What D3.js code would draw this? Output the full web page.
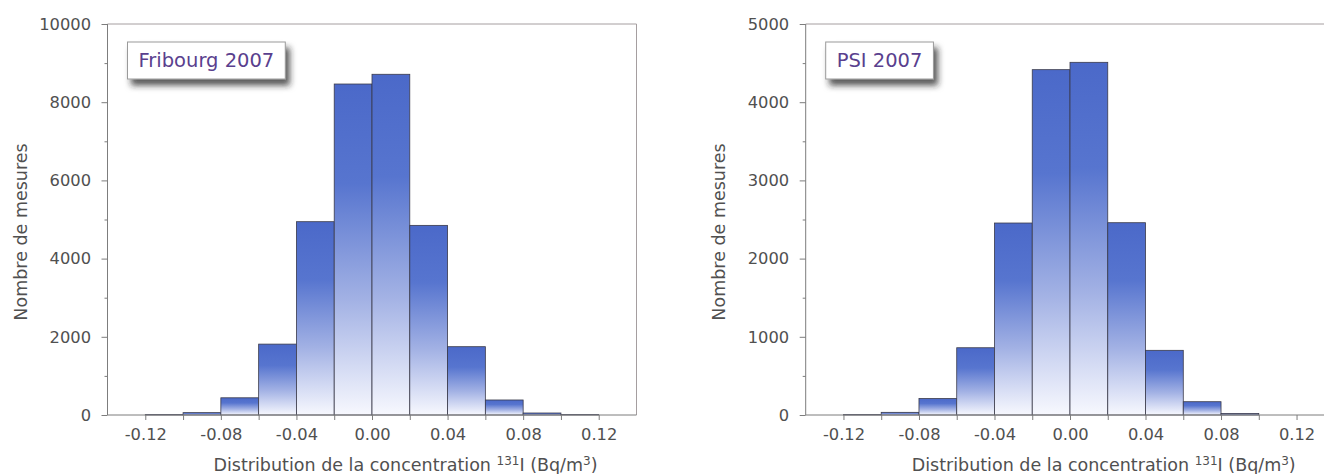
<!DOCTYPE html>
<html>
<head>
<meta charset="utf-8">
<script src="https://cdn.jsdelivr.net/npm/d3@7"></script>
<style>
  html, body { margin: 0; padding: 0; background: #ffffff; }
  svg { display: block; font-family: "DejaVu Sans", "Liberation Sans", Arial, sans-serif; }
</style>
</head>
<body>
<svg id="chart" width="1324" height="474"></svg>
<script>
// ---- data ----
const binStarts = [-0.12, -0.10, -0.08, -0.06, -0.04, -0.02, 0.00, 0.02, 0.04, 0.06, 0.08, 0.10];
const binWidth = 0.02;
const fribourgCounts = [10, 60, 440, 1813, 4944, 8465, 8714, 4850, 1747, 384, 51, 10];
const psiCounts = [5, 34, 210, 860, 2455, 4416, 4510, 2459, 827, 170, 18, 0];
const xTickValues = [-0.12, -0.10, -0.08, -0.06, -0.04, -0.02, 0.00, 0.02, 0.04, 0.06, 0.08, 0.10, 0.12];
const xTickLabels = ["-0.12", "", "-0.08", "", "-0.04", "", "0.00", "", "0.04", "", "0.08", "", "0.12"];
const fribourgYMajor = [0, 2000, 4000, 6000, 8000, 10000];
const fribourgYMinor = [1000, 3000, 5000, 7000, 9000];
const psiYMajor = [0, 1000, 2000, 3000, 4000, 5000];
const psiYMinor = [500, 1500, 2500, 3500, 4500];
const panelTitles = ["Fribourg 2007", "PSI 2007"];
const yTitle = "Nombre de mesures";

const svg = d3.select("#chart");
const defs = svg.append("defs");

const grad = defs.append("linearGradient")
  .attr("id", "barGrad").attr("x1", 0).attr("y1", 0).attr("x2", 0).attr("y2", 1);
grad.append("stop").attr("offset", 0).attr("stop-color", "#4b69c9");
grad.append("stop").attr("offset", 0.3).attr("stop-color", "#5775cf");
grad.append("stop").attr("offset", 0.65).attr("stop-color", "#a2b1e4");
grad.append("stop").attr("offset", 1).attr("stop-color", "#f7f8fe");

const shadow = defs.append("filter").attr("id", "shadow")
  .attr("x", "-20%").attr("y", "-30%").attr("width", "150%").attr("height", "200%");
shadow.append("feDropShadow").attr("dx", 4).attr("dy", 6).attr("stdDeviation", 3)
  .attr("flood-color", "#222").attr("flood-opacity", 0.75);

const panels = [
  { left: 107.5, right: 636.5, counts: fribourgCounts, yMax: 10000, major: fribourgYMajor, minor: fribourgYMinor, title: panelTitles[0], yTitleX: 26.5 },
  { left: 805.7, right: 1334.3, counts: psiCounts, yMax: 5000, major: psiYMajor, minor: psiYMinor, title: panelTitles[1], yTitleX: 725 }
];
const plotTop = 24, plotBottom = 415;
const axisColor = "#7d7d7d";
const textColor = "#505050";
const tickFont = 16.3;
const titleFont = 17.5;

panels.forEach(p => {
  const g = svg.append("g");
  const x = d3.scaleLinear().domain([-0.14, 0.14]).range([p.left, p.right]);
  const y = d3.scaleLinear().domain([0, p.yMax]).range([plotBottom, plotTop]);

  g.append("path")
    .attr("d", `M${p.left},${plotTop}H${p.right}V${plotBottom}`)
    .attr("fill", "none").attr("stroke", "#a59ea0").attr("stroke-width", 1);

  g.selectAll("rect.bar").data(binStarts.map((b, i) => ({ x0: b, v: p.counts[i] })))
    .join("rect").attr("class", "bar")
    .attr("x", d => x(d.x0))
    .attr("width", d => x(d.x0 + binWidth) - x(d.x0))
    .attr("y", d => y(d.v))
    .attr("height", d => y(0) - y(d.v))
    .attr("fill", "url(#barGrad)")
    .attr("stroke", "#3a3a4a").attr("stroke-width", 0.8);

  const xAxis = d3.axisBottom(x).tickValues(xTickValues)
    .tickFormat((d, i) => xTickLabels[i]).tickSize(5).tickPadding(8);
  const gx = g.append("g").attr("transform", `translate(0,${plotBottom})`).call(xAxis);
  gx.select(".domain").attr("d", `M${p.left},0H${p.right}`).attr("stroke", axisColor);
  gx.selectAll(".tick line").attr("stroke", axisColor);
  gx.selectAll(".tick text").attr("fill", textColor).attr("font-size", tickFont)
    .attr("font-family", "'DejaVu Sans', sans-serif");

  const yAxis = d3.axisLeft(y).tickValues(p.major).tickFormat(d3.format("d")).tickSize(6).tickPadding(10.5);
  const gy = g.append("g").attr("transform", `translate(${p.left},0)`).call(yAxis);
  gy.select(".domain").attr("d", `M0,${plotTop}V${plotBottom}`).attr("stroke", axisColor);
  gy.selectAll(".tick line").attr("stroke", axisColor);
  gy.selectAll(".tick text").attr("fill", textColor).attr("font-size", tickFont)
    .attr("font-family", "'DejaVu Sans', sans-serif");
  const yMinor = d3.axisLeft(y).tickValues(p.minor).tickFormat("").tickSize(3);
  const gym = g.append("g").attr("transform", `translate(${p.left},0)`).call(yMinor);
  gym.select(".domain").remove();
  gym.selectAll(".tick line").attr("stroke", axisColor);

  const xt = g.append("text")
    .attr("x", p.left + 298).attr("y", 471)
    .attr("text-anchor", "middle").attr("fill", textColor).attr("font-size", titleFont);
  xt.append("tspan").text("Distribution de la concentration ");
  xt.append("tspan").attr("font-size", 12).attr("dy", -6).text("131");
  xt.append("tspan").attr("dy", 6).text("I (Bq/m");
  xt.append("tspan").attr("font-size", 12).attr("dy", -6).text("3");
  xt.append("tspan").attr("dy", 6).text(")");

  g.append("text")
    .attr("transform", `translate(${p.yTitleX},232) rotate(-90)`)
    .attr("text-anchor", "middle").attr("fill", textColor).attr("font-size", titleFont)
    .text(yTitle);

  const bx = p.left + 20, by = 42, bh = 37;
  const box = g.append("rect").attr("x", bx).attr("y", by).attr("height", bh)
    .attr("fill", "#fff").attr("stroke", "#9a9a9a").attr("stroke-width", 1)
    .attr("filter", "url(#shadow)");
  const lt = g.append("text").attr("x", bx + 11).attr("y", by + 25)
    .attr("fill", "#5a3f8e").attr("font-size", 19.5).text(p.title);
  const w = lt.node().getComputedTextLength();
  box.attr("width", w + 22);
});
</script>
</body>
</html>
